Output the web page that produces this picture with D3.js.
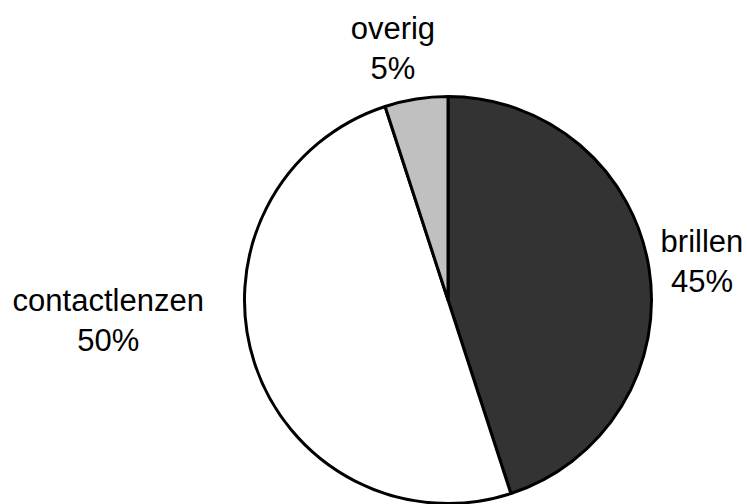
<!DOCTYPE html>
<html>
<head>
<meta charset="utf-8">
<script src="https://cdn.jsdelivr.net/npm/d3@7"></script>
<style>
  html, body { margin: 0; padding: 0; background: #fff; }
  svg { display: block; }
</style>
</head>
<body>
<svg id="chart" width="747" height="504"></svg>
<script>
const categories = ["brillen", "contactlenzen", "overig"];
const values = [45, 50, 5];
const labels = ["45%", "50%", "5%"];

const fills = ["#333333", "#ffffff", "#c0c0c0"];

// label nudges from the arc centroid (layout only)
const nudges = {brillen: [7, -9], contactlenzen: [-102, -66], overig: [-16, -14]};

const width = 747, height = 504;
const cx = 448, cy = 300, radius = 203.5;

const svg = d3.select("#chart");
const g = svg.append("g").attr("transform", `translate(${cx},${cy})`);

const data = categories.map((c, i) => ({category: c, value: values[i], label: labels[i], fill: fills[i]}));

const pie = d3.pie().value(d => d.value).sort(null);
const arc = d3.arc().innerRadius(0).outerRadius(radius);
const labelArc = d3.arc().innerRadius(250).outerRadius(250);

const arcs = pie(data);

g.selectAll("path.slice")
    .data(arcs)
    .enter().append("path")
    .attr("class", "slice")
    .attr("d", arc)
    .attr("fill", d => d.data.fill)
    .attr("stroke", "#000")
    .attr("stroke-width", 3)
    .attr("stroke-linejoin", "round");

const text = g.selectAll("text.label")
    .data(arcs)
    .enter().append("text")
    .attr("class", "label")
    .attr("text-anchor", "middle")
    .attr("font-family", "'Liberation Sans', Arial, sans-serif")
    .attr("font-size", "31px")
    .attr("fill", "#000")
    .attr("transform", d => {
        const [x, y] = labelArc.centroid(d);
        const n = nudges[d.data.category];
        return `translate(${x + n[0]},${y + n[1]})`;
    });

text.append("tspan").attr("x", 0).attr("y", 0).text(d => d.data.category);
text.append("tspan").attr("x", 0).attr("y", 40).text(d => d.data.label);
</script>
</body>
</html>
